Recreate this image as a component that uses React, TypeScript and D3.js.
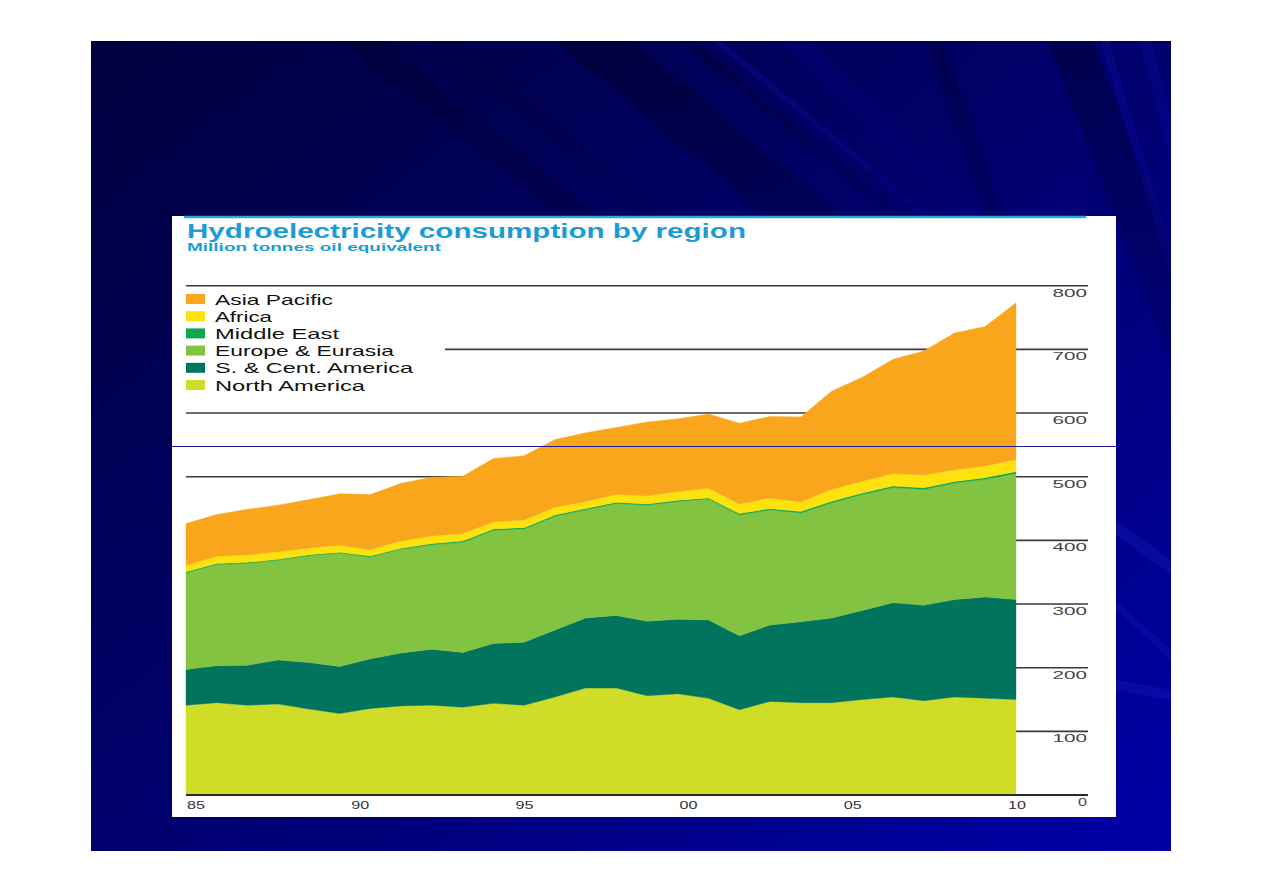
import React from "react";
import * as d3 from "d3";

const years = [1983,1984,1985,1986,1987,1988,1989,1990,1991,1992,1993,1994,1995,1996,1997,1998,1999,2000,2001,2002,2003,2004,2005,2006,2007,2008,2009,2010];
const northAmerica = [141,145,141,143,135,128,136,140,141,138,144,141,154,168,168,156,159,152,134,147,145,145,150,154,148,154,152,150];
const sCentAmerica = [56,58,63,69,73,74,78,83,88,86,94,99,105,110,114,117,117,123,116,120,127,133,140,148,150,153,159,157];
const europeEurasia = [152,159,160,157,168,178,160,163,164,173,178,178,179,170,176,182,185,190,190,181,171,181,182,181,182,183,185,198];
const middleEast = [1.5,1.5,1.5,1.5,1.5,1.5,1.5,1.5,2,2,2,2,2,2,2,2,2,1.5,2,2,2.5,2.5,2.5,2.5,2.5,2.5,2.5,3];
const africa = [10.5,11.5,11.5,11.5,10.6,10.6,10,12,12,11.7,11,12,11.7,11,12.2,12.6,13.7,15.3,15.3,16.4,14.8,18.4,18.4,19.5,20,18.4,18.4,19];
const asiaPacific = [65.5,65.5,71.8,73.3,75.9,81.3,86.4,90.1,92.2,90,99.7,100.9,106.7,107.9,105.2,116.2,114.2,116.7,126.8,128.2,133.6,154.4,163.3,179.5,194.8,214.8,218.9,246.1];

const seriesKeys = ["North America", "S. & Cent. America", "Europe & Eurasia", "Middle East", "Africa", "Asia Pacific"];
const seriesColors = ["#cfdc28", "#01745d", "#82c341", "#0fa650", "#fde20e", "#f9a61c"];
const legendOrder = ["Asia Pacific", "Africa", "Middle East", "Europe & Eurasia", "S. & Cent. America", "North America"];
const legendWidths = [118, 57, 124, 179, 198, 150];
const yTicks = [0, 100, 200, 300, 400, 500, 600, 700, 800];
const xLabels = ["85", "90", "95", "00", "05", "10"];

const FONT = "'Liberation Sans', Arial, Helvetica, sans-serif";

export default function App() {
  const table = years.map((yr, i) => ({
    year: yr,
    "North America": northAmerica[i],
    "S. & Cent. America": sCentAmerica[i],
    "Europe & Eurasia": europeEurasia[i],
    "Middle East": middleEast[i],
    "Africa": africa[i],
    "Asia Pacific": asiaPacific[i],
  }));
  const stacked = d3.stack<any>().keys(seriesKeys)(table);
  const x = d3.scaleLinear().domain([1983, 2010]).range([186, 1016]);
  const y = d3.scaleLinear().domain([0, 800]).range([795, 795 - 800 * 0.6366]);
  const xl = d3.scalePoint<string>().domain(xLabels).range([196, 1017]);
  const color = d3.scaleOrdinal<string, string>().domain(seriesKeys).range(seriesColors);
  const area = d3
    .area<any>()
    .x((d) => x(d.data.year))
    .y0((d) => y(d[0]))
    .y1((d) => y(d[1]));

  // decorative slide background streaks
  const streaks = [
    { x0: 340, w: 42, s: 1.25, len: 330, c: "#00002a", o: 0.4 },
    { x0: 430, w: 30, s: 1.2, len: 260, c: "#00002a", o: 0.2 },
    { x0: 555, w: 78, s: 1.2, len: 330, c: "#00002a", o: 0.5 },
    { x0: 680, w: 14, s: 1.2, len: 280, c: "#00002a", o: 0.35 },
    { x0: 712, w: 10, s: 1.2, len: 300, c: "#1414c8", o: 0.25 },
    { x0: 780, w: 30, s: 1.0, len: 250, c: "#1010b0", o: 0.18 },
    { x0: 925, w: 18, s: 0.35, len: 420, c: "#00002a", o: 0.35 },
    { x0: 1048, w: 45, s: 0.38, len: 520, c: "#00002a", o: 0.4 },
    { x0: 1100, w: 9, s: 0.3, len: 480, c: "#1a1ad0", o: 0.22 },
    { x0: 1140, w: 12, s: 0.25, len: 600, c: "#1a1ad0", o: 0.16 },
  ];

  return (
    <svg width={1263} height={893} style={{ position: "absolute", left: 0, top: 0 }}>
      <defs>
        <linearGradient id="bg" x1="0" y1="0" x2="1" y2="1">
          <stop offset="0" stopColor="#00003e" />
          <stop offset="0.45" stopColor="#000068" />
          <stop offset="1" stopColor="#0000a6" />
        </linearGradient>
        <linearGradient id="fade" x1="0" y1="0" x2="0" y2="1">
          <stop offset="0" stopColor="#fff" stopOpacity="1" />
          <stop offset="1" stopColor="#fff" stopOpacity="0" />
        </linearGradient>
        <clipPath id="slideClip">
          <rect x={91} y={41} width={1080} height={810} />
        </clipPath>
        {streaks.map((s, i) => (
          <mask id={`m${i}`} key={i} maskContentUnits="userSpaceOnUse">
            <rect x={0} y={41} width={1263} height={s.len} fill="url(#fade)" />
          </mask>
        ))}
      </defs>
      <rect x={0} y={0} width={1263} height={893} fill="#ffffff" />
      <g clipPath="url(#slideClip)">
        <rect x={91} y={41} width={1080} height={810} fill="url(#bg)" />
        {streaks.map((s, i) => (
          <polygon
            key={i}
            mask={`url(#m${i})`}
            points={`${s.x0},41 ${s.x0 + s.w},41 ${s.x0 + s.w + s.s * s.len},${41 + s.len} ${s.x0 + s.s * s.len},${41 + s.len}`}
            fill={s.c}
            opacity={s.o}
          />
        ))}
        <polygon points="1116,520 1171,560 1171,575 1116,535" fill="#2a2ad0" opacity={0.22} />
        <polygon points="1116,600 1171,650 1171,660 1116,610" fill="#2a2ad0" opacity={0.18} />
        <polygon points="1116,680 1171,690 1171,700 1116,690" fill="#3030d8" opacity={0.18} />
      </g>

      {/* white chart panel */}
      <rect x={172} y={216} width={944} height={601} fill="#ffffff" />
      <line x1={184} x2={1086} y1={217} y2={217} stroke="#29a8e0" strokeWidth={2.5} />

      <text x={187} y={238} fontFamily={FONT} fontWeight="bold" fontSize={19.5} fill="#1d9bd7" textLength={559} lengthAdjust="spacingAndGlyphs">
        Hydroelectricity consumption by region
      </text>
      <text x={187} y={251} fontFamily={FONT} fontWeight="bold" fontSize={11.5} fill="#1d9bd7" textLength={254} lengthAdjust="spacingAndGlyphs">
        Million tonnes oil equivalent
      </text>

      {/* gridlines and value labels */}
      {yTicks.map((t) => (
        <g key={t}>
          <line
            x1={t === 700 ? 445 : 186}
            x2={1088}
            y1={y(t)}
            y2={y(t)}
            stroke={t === 0 ? "#2a2a2a" : "#3a3a3a"}
            strokeWidth={t === 0 ? 2.2 : 1.6}
          />
          <text
            x={1087}
            y={y(t) + 11}
            textAnchor="end"
            fontFamily={FONT}
            fontSize={11}
            fill="#444"
            textLength={String(t).length === 1 ? 9 : 11.5 * String(t).length}
            lengthAdjust="spacingAndGlyphs"
          >
            {t}
          </text>
        </g>
      ))}

      {/* stacked areas */}
      {stacked.map((s) => (
        <path key={s.key} d={area(s) || ""} fill={color(s.key)} stroke={color(s.key)} strokeWidth={0.4} />
      ))}
      <line x1={186} x2={1088} y1={y(0)} y2={y(0)} stroke="#2a2a2a" strokeWidth={2.2} />

      {/* x labels */}
      {xLabels.map((l) => (
        <text
          key={l}
          x={xl(l)}
          y={y(0) + 14}
          textAnchor="middle"
          fontFamily={FONT}
          fontSize={11}
          fill="#333"
          textLength={18}
          lengthAdjust="spacingAndGlyphs"
        >
          {l}
        </text>
      ))}

      {/* legend */}
      {legendOrder.map((k, i) => {
        const cy = 299 + i * 17.2;
        return (
          <g key={k}>
            <rect x={186} y={cy - 5} width={19} height={10} fill={color(k)} />
            <text
              x={215}
              y={cy + 5.5}
              fontFamily={FONT}
              fontSize={15}
              fill="#111"
              textLength={legendWidths[i]}
              lengthAdjust="spacingAndGlyphs"
            >
              {k}
            </text>
          </g>
        );
      })}

      {/* thin blue line across panel */}
      <line x1={172} x2={1116} y1={446.5} y2={446.5} stroke="#1c1c9c" strokeWidth={1} />
    </svg>
  );
}
